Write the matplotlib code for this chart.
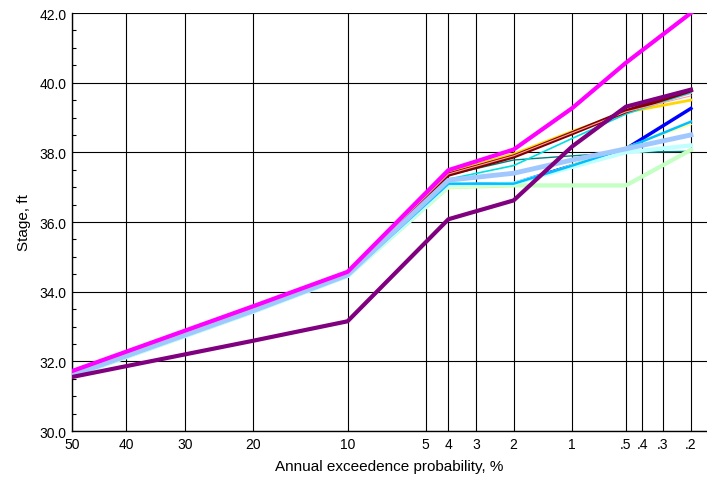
import matplotlib
matplotlib.use("Agg")
import matplotlib.pyplot as plt
from matplotlib.ticker import MultipleLocator
from statistics import NormalDist

plt.rcParams['font.family'] = ['Liberation Sans', 'DejaVu Sans']

# exceedance probabilities (%) of the computed ordinates
aep = [50, 20, 10, 4, 2, 1, 0.5, 0.2]

# stage (ft) for each realization at those probabilities
magenta = [31.72, 33.58, 34.57, 37.49, 38.08, 39.27, 40.57, 42.0]
purple = [31.55, 32.59, 33.15, 36.08, 36.62, 38.17, 39.31, 39.80]
maroon = [31.60, 33.45, 34.48, 37.36, 37.88, 38.55, 39.18, 39.78]
gold = [31.64, 33.50, 34.52, 37.42, 37.95, 38.60, 39.15, 39.50]
salmon = [31.63, 33.49, 34.51, 37.38, 37.90, 38.56, 39.16, 39.62]
cyan = [31.60, 33.46, 34.49, 37.23, 37.62, 38.40, 39.10, 39.72]
teal = [31.60, 33.46, 34.49, 37.35, 37.78, 37.90, 38.00, 38.03]
blue = [31.58, 33.44, 34.47, 37.06, 37.10, 37.62, 38.10, 39.26]
skyblue = [31.58, 33.44, 34.47, 37.10, 37.10, 37.62, 38.12, 38.88]
paleyellow = [31.57, 33.43, 34.46, 36.98, 37.05, 37.65, 38.15, 38.80]
lightblue = [31.60, 33.45, 34.48, 37.20, 37.40, 37.78, 38.10, 38.50]
palecyan = [31.57, 33.42, 34.45, 37.05, 37.10, 37.58, 38.00, 38.20]
lightgreen = [31.56, 33.42, 34.45, 37.00, 37.05, 37.05, 37.05, 38.07]
lavender = [31.66, 33.53, 34.54, 37.40, 37.92, 38.57, 39.16, 39.70]

tick_pct = [50, 40, 30, 20, 10, 5, 4, 3, 2, 1, 0.5, 0.4, 0.3, 0.2]
tick_text = ['50', '40', '30', '20', '10', '5', '4', '3', '2', '1',
             '.5', '.4', '.3', '.2']


def zscore(p):
    # position on a normal probability scale
    return NormalDist().inv_cdf(1 - p / 100.0)


x = [zscore(p) for p in aep]

# drawn bottom to top
series = [
    (blue, '#0000ff', 2.5),
    (lavender, '#d8a0e0', 1.5),
    (gold, '#ffd700', 2.0),
    (teal, '#008080', 1.0),
    (cyan, '#00e0e0', 1.2),
    (maroon, '#800000', 3.0),
    (salmon, '#ffa0a0', 0.8),
    (lightgreen, '#c4ffc4', 3.0),
    (paleyellow, '#ffff99', 1.2),
    (palecyan, '#c0ffff', 3.0),
    (skyblue, '#00bfff', 1.8),
    (lightblue, '#a0c8ff', 3.5),
    (purple, '#800080', 3.0),
    (magenta, '#ff00ff', 3.0),
]

fig = plt.figure(figsize=(7.07, 4.81), dpi=100)
ax = fig.add_axes([72 / 707, 1 - 432 / 481, 1 - 72 / 707, (432 - 14) / 481])

for vals, color, lw in series:
    ax.plot(x, vals, color=color, lw=lw, solid_joinstyle='round', zorder=3)

ax.set_xlim(0, 2.953)
ax.set_ylim(30, 42)

ax.set_xticks([zscore(p) for p in tick_pct])
ax.set_xticklabels(tick_text, fontsize=10)
ax.yaxis.set_major_locator(MultipleLocator(2))
ax.yaxis.set_minor_locator(MultipleLocator(0.5))
ax.set_yticklabels([f'{v:.1f}' for v in ax.get_yticks()], fontsize=10)

ax.tick_params(axis='both', which='major', length=0, pad=4)
ax.tick_params(axis='y', which='minor', direction='in', length=3, width=0.8)
ax.grid(True, which='major', color='black', lw=0.8, zorder=1)

for side in ['top', 'right']:
    ax.spines[side].set_visible(False)
for side in ['left', 'bottom']:
    ax.spines[side].set_linewidth(1.0)

ax.set_xlabel('Annual exceedence probability, %', fontsize=11, labelpad=6)
ax.set_ylabel('Stage, ft', fontsize=11, labelpad=6)

fig.savefig('out.png', dpi=100)
